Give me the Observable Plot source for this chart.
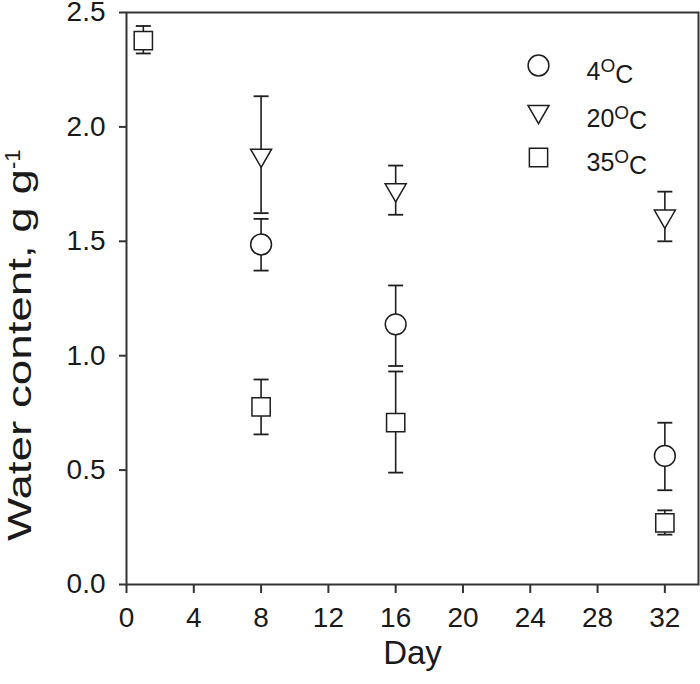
<!DOCTYPE html>
<html><head><meta charset="utf-8">
<script src="https://cdn.jsdelivr.net/npm/d3@7"></script>
<script src="https://cdn.jsdelivr.net/npm/@observablehq/plot@0.6"></script>
<style>body{margin:0;background:#fff;} svg{display:block;}</style>
</head><body><div id="chart"></div>
<script>
// ---- data ----
const seriesNames = ["4", "20", "35"];           // temperature, °C
const days4  = [8, 16, 32];
const mean4  = [1.486, 1.137, 0.562];
const lo4    = [1.372, 0.955, 0.412];
const hi4    = [1.598, 1.307, 0.707];

const days20 = [8, 16, 32];
const mean20 = [1.876, 1.725, 1.610];
const lo20   = [1.623, 1.616, 1.500];
const hi20   = [2.134, 1.831, 1.717];

const days35 = [1, 8, 16, 32];
const mean35 = [2.377, 0.776, 0.707, 0.269];
const lo35   = [2.321, 0.656, 0.489, 0.218];
const hi35   = [2.441, 0.896, 0.931, 0.324];

const xTicks = [0, 4, 8, 12, 16, 20, 24, 28, 32];
const yTicks = [0, 0.5, 1.0, 1.5, 2.0, 2.5];
const xTitle = "Day";
const yTitle = "Water content, g g";
const yTitleSup = "-1";

// ---- build rows ----
const rows = (s, d, m, l, h) => d.map((day, i) => ({series: s, day, mean: m[i], lo: l[i], hi: h[i]}));
const r4 = rows("4", days4, mean4, lo4, hi4);
const r20 = rows("20", days20, mean20, lo20, hi20);
const r35 = rows("35", days35, mean35, lo35, hi35);

const ink = "#1e1e1e";
const cap = {draw(ctx) { ctx.moveTo(-7.5, 0); ctx.lineTo(7.5, 0); }};
const symbols = {"4": {symbol: "circle", r: 10.4}, "20": {symbol: "triangle", r: 7.8, rotate: 180}, "35": {symbol: "square", r: 10.3}};
const legendDy = {"4": 53, "20": 99, "35": 145};
const legendTextDy = {"4": 59.5, "20": 106, "35": 150.5};

const legendMarks = [];
for (const s of seriesNames) {
  const sy = symbols[s];
  legendMarks.push(Plot.dot([s], {frameAnchor: "top-right", dx: -160, dy: legendDy[s], symbol: sy.symbol, r: sy.r, rotate: sy.rotate || 0, fill: "white", stroke: ink, strokeWidth: 1.5}));
  legendMarks.push(Plot.text([s + "OC"], {frameAnchor: "top-right", dx: -112, dy: legendTextDy[s], text: d => d, textAnchor: "start", lineAnchor: "middle", fontSize: 25, fill: "#1a1a1a"}));
}

const dataMarks = [];
for (const [s, data] of [["35", r35], ["4", r4], ["20", r20]]) {
  dataMarks.push(Plot.ruleX(data, {x: "day", y1: "lo", y2: "hi", stroke: ink, strokeWidth: 1.6}));
  dataMarks.push(Plot.dot(data, {x: "day", y: "lo", symbol: cap, stroke: ink, strokeWidth: 1.8}));
  dataMarks.push(Plot.dot(data, {x: "day", y: "hi", symbol: cap, stroke: ink, strokeWidth: 1.8}));
}
for (const [s, data] of [["35", r35], ["4", r4], ["20", r20]]) {
  const sy = symbols[s];
  dataMarks.push(Plot.dot(data, {x: "day", y: "mean", symbol: sy.symbol, r: sy.r, rotate: sy.rotate || 0, fill: "white", stroke: ink, strokeWidth: 1.5}));
}

const chart = Plot.plot({
  width: 700, height: 684,
  marginLeft: 126, marginRight: 2, marginTop: 12, marginBottom: 100,
  style: {fontFamily: "'Liberation Sans', Arial, sans-serif", fontSize: "28px", color: "#1a1a1a", background: "white", overflow: "visible"},
  x: {domain: [0, 34]},
  y: {domain: [0, 2.5]},
  marks: [
    Plot.axisX({ticks: xTicks, tickSize: 9, tickPadding: 14, label: null, strokeWidth: 2, stroke: "#333", fontSize: 28}),
    Plot.axisY({ticks: yTicks, tickSize: 7, tickPadding: 14, tickFormat: d3.format(".1f"), label: null, strokeWidth: 2, stroke: "#333", fontSize: 28}),
    ...dataMarks,
    Plot.frame({stroke: "#333", strokeWidth: 2}),
    ...legendMarks,
    Plot.text([xTitle], {frameAnchor: "bottom", dy: 79, text: d => d, textAnchor: "middle", fontSize: 33, fill: "#1a1a1a"}),
    Plot.text([yTitle], {frameAnchor: "top-left", dx: -106, dy: 137, rotate: -90, text: d => d, textAnchor: "end", lineAnchor: "middle", fontSize: 33, fill: "#1a1a1a"})
  ]
});
document.getElementById("chart").appendChild(chart);

// superscripts
d3.select(chart).selectAll("text").each(function() {
  const t = this.textContent;
  const sel = d3.select(this);
  if (t === yTitle) {
    sel.text(null);
    sel.append("tspan").attr("textLength", 372).attr("lengthAdjust", "spacingAndGlyphs").text(yTitle);
    sel.append("tspan").attr("dy", "-0.5em").attr("font-size", 22).text(yTitleSup);
  } else if (seriesNames.some(s => t === s + "OC")) {
    const num = t.slice(0, -2);
    sel.text(null);
    sel.append("tspan").text(num);
    sel.append("tspan").attr("dy", "-0.42em").attr("font-size", 19).text("O");
    sel.append("tspan").attr("dy", "0.42em").attr("font-size", 25).text("C");
  }
});
</script>
</body></html>
